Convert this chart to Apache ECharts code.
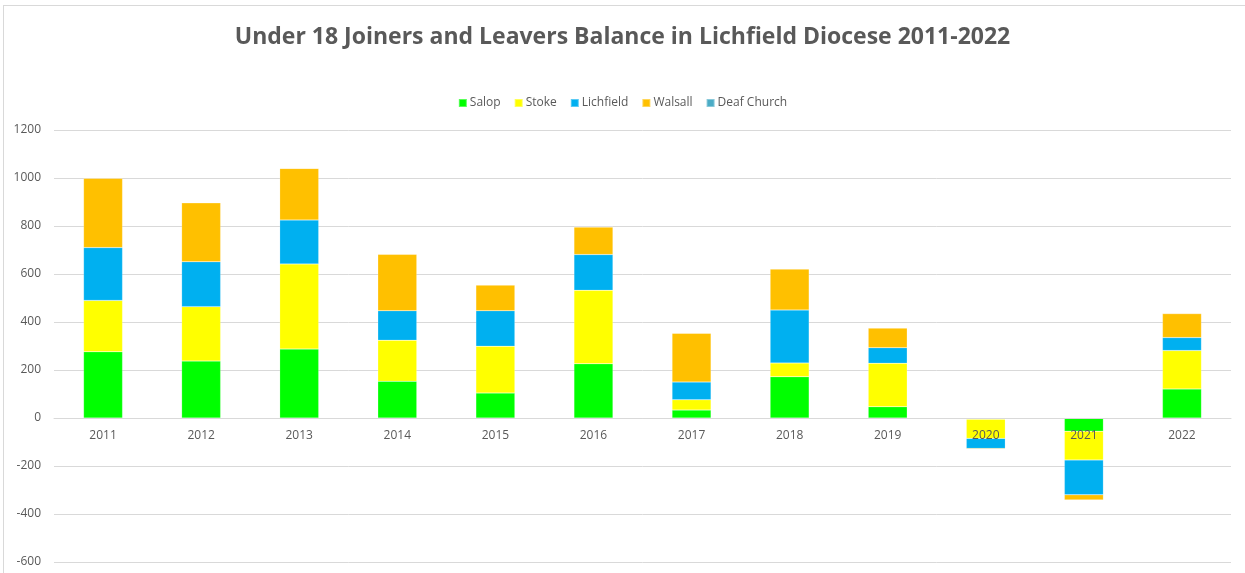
<!DOCTYPE html>
<html>
<head>
<meta charset="utf-8">
<script src="https://cdn.jsdelivr.net/npm/echarts@6/dist/echarts.min.js"></script>
<style>
html,body{margin:0;padding:0;background:#fff;}
#chart{width:1245px;height:573px;position:absolute;left:0;top:0;}
#frame{position:absolute;left:3px;top:5px;width:1250px;height:580px;border-left:1px solid #d9d9d9;border-top:1px solid #d9d9d9;pointer-events:none;}
</style>
</head>
<body>
<div id="chart"></div>
<div id="frame"></div>
<script>
const categories = ['2011','2012','2013','2014','2015','2016','2017','2018','2019','2020','2021','2022'];
const salop      = [276, 237, 287, 153, 104, 226, 33, 172, 47, -5, -55, 121];
const stoke      = [214, 227, 355, 171, 195, 306, 43, 57, 181, -80, -120, 160];
const lichfield  = [220, 187, 183, 123, 148, 149, 74, 221, 65, -42, -145, 54];
const walsall    = [289, 246, 215, 235, 107, 115, 203, 171, 82, -3, -22, 100];
const deafChurch = [0, 0, 0, 0, 0, 0, 0, 0, 0, 0, 0, 0];
const yTicks = { min: -600, max: 1200, interval: 200 };

const names = ['Salop','Stoke','Lichfield','Walsall','Deaf Church'];
const colors = ['#00FF00','#FFFF00','#00B0F0','#FFC000','#4BACC6'];
const datas = [salop, stoke, lichfield, walsall, deafChurch];

const chart = echarts.init(document.getElementById('chart'), null, {renderer:'canvas'});
chart.setOption({
  animation:false,
  backgroundColor:'#fff',
  title:{
    text:'Under 18 Joiners and Leavers Balance in Lichfield Diocese 2011-2022',
    left:'center', top:21,
    textStyle:{fontFamily:'Open Sans', fontSize:23, fontWeight:'bold', color:'#595959'}
  },
  legend:{
    top:92, left:'center',
    itemWidth:8, itemHeight:8, itemGap:13,
    icon:'rect',
    textStyle:{fontFamily:'Open Sans', fontSize:12, color:'#595959', padding:[0,0,0,-2]},
    data:names
  },
  grid:{left:54, right:14, top:130, bottom:11, containLabel:false, outerBoundsMode:'none'},
  xAxis:{
    type:'category', data:categories, z:10,
    axisLine:{onZero:false, lineStyle:{color:'#d9d9d9', width:1}},
    axisTick:{show:false},
    axisLabel:{fontFamily:'Open Sans', fontSize:12, color:'#595959', margin:12}
  },
  yAxis:{
    type:'value', min:yTicks.min, max:yTicks.max, interval:yTicks.interval,
    axisLine:{show:false}, axisTick:{show:false},
    splitLine:{lineStyle:{color:'#d9d9d9', width:1}},
    axisLabel:{fontFamily:'Open Sans', fontSize:12, color:'#595959', margin:13,
      formatter:(v)=>String(v)}
  },
  series: names.map((n,i)=>({
    name:n, type:'bar', stack:'total', barWidth:39,
    data:datas[i],
    itemStyle:{color:colors[i], borderColor:'rgba(255,255,255,0.35)', borderWidth:0.5}
  }))
});
// place the category axis on the zero line using the value scale
const zeroY = chart.convertToPixel({yAxisIndex:0}, 0);
const minY = chart.convertToPixel({yAxisIndex:0}, yTicks.min);
chart.setOption({xAxis:{offset: -(minY - zeroY)}});
</script>
</body>
</html>
